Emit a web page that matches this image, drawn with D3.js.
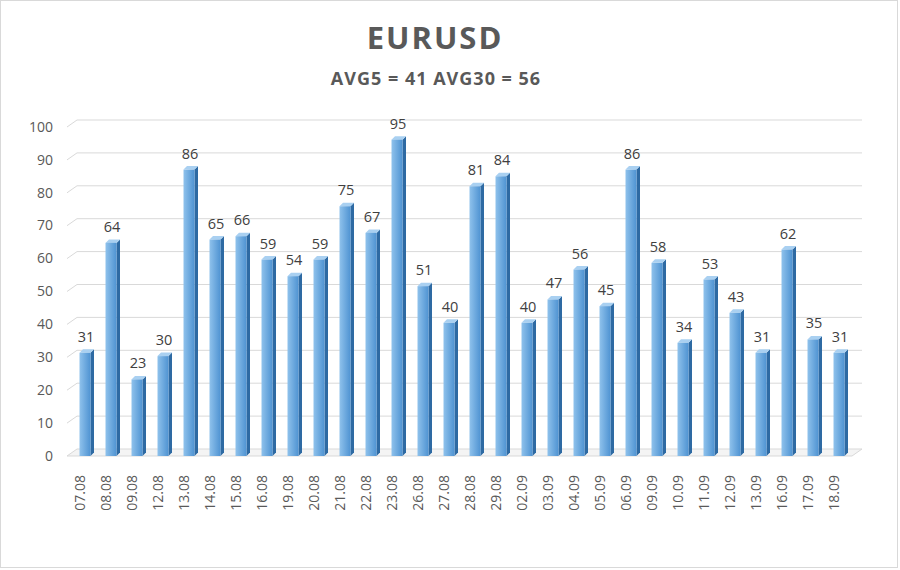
<!DOCTYPE html>
<html>
<head>
<meta charset="utf-8">
<script src="https://cdn.jsdelivr.net/npm/d3@7/dist/d3.min.js"></script>
<style>
  body { margin: 0; background: #fff; }
  svg { display: block; font-family: "Open Sans", "Liberation Sans", sans-serif; }
  .tick-y { font-size: 14px; fill: #595959; }
  .tick-x { font-size: 14px; fill: #595959; }
  .value { font-size: 14.5px; fill: #404040; }
</style>
</head>
<body>
<div class="wrapper-svg"></div>
<script>
var dates = ['07.08','08.08','09.08','12.08','13.08','14.08','15.08','16.08','19.08','20.08',
             '21.08','22.08','23.08','26.08','27.08','28.08','29.08','02.09','03.09','04.09',
             '05.09','06.09','09.09','10.09','11.09','12.09','13.09','16.09','17.09','18.09'];
var values = [31,64,23,30,86,65,66,59,54,59,75,67,95,51,40,81,84,40,47,56,45,86,58,34,53,43,31,62,35,31];
var yTicks = [0,10,20,30,40,50,60,70,80,90,100];
var title = 'EURUSD';
var subtitle = 'AVG5 = 41 AVG30 = 56';

var W = 900, H = 570;
var svg = d3.select('.wrapper-svg')
    .append('svg')
    .attr('width', W)
    .attr('height', H);

var defs = svg.append('defs');
var g1 = defs.append('linearGradient').attr('id', 'front').attr('x1', 0).attr('x2', 1).attr('y1', 0).attr('y2', 0);
g1.append('stop').attr('offset', '0%').attr('stop-color', '#8fc2ec');
g1.append('stop').attr('offset', '100%').attr('stop-color', '#4f93d2');

svg.append('rect')
    .attr('x', 0.5).attr('y', 0.5)
    .attr('width', W - 3).attr('height', H - 3)
    .attr('fill', '#fff')
    .attr('stroke', '#d9d9d9');

var x = d3.scaleBand().domain(dates).range([72, 852]);
// front of the bars, back wall gridlines, axis labels (3d perspective)
var y = d3.scaleLinear().domain([0, 100]).range([456, 123]);
var yBack = d3.scaleLinear().domain([0, 100]).range([449, 120]);
var yLab = d3.scaleLinear().domain([0, 100]).range([457, 128]);

var left = 67, wall = 77, right = 862, slant = 7;

// floor
svg.append('polygon')
    .attr('points', [[left, yBack(0) + slant], [wall, yBack(0)], [right, yBack(0)], [right - 10, yBack(0) + slant]].join(' '))
    .attr('fill', '#f4f4f4')
    .attr('stroke', '#d9d9d9');

// gridlines with the slanted side wall part
yTicks.forEach(function(t) {
    if (t === 0) return;
    svg.append('polyline')
        .attr('points', [[left, yBack(t) + slant], [wall, yBack(t)], [right, yBack(t)]].join(' '))
        .attr('fill', 'none')
        .attr('stroke', '#d9d9d9');
});

svg.selectAll('.tick-y')
    .data(yTicks)
    .enter().append('text')
    .classed('tick-y', true)
    .attr('x', 53)
    .attr('y', function(d) { return yLab(d); })
    .attr('text-anchor', 'end')
    .attr('dominant-baseline', 'middle')
    .text(function(d) { return d; });

// bars
var bw = 11, sd = 3.5;
var bars = svg.selectAll('.bar')
    .data(values)
    .enter().append('g')
    .classed('bar', true)
    .attr('transform', function(d, i) { return 'translate(' + (x(dates[i]) + x.bandwidth() / 2 - bw / 2) + ',0)'; });

bars.append('polygon')
    .attr('points', function(d) { return [[bw, y(d)], [bw + sd, y(d) - sd], [bw + sd, y(0) - sd], [bw, y(0)]].join(' '); })
    .attr('fill', '#2e6aa3');

bars.append('polygon')
    .attr('points', function(d) { return [[0, y(d)], [sd, y(d) - sd], [bw + sd, y(d) - sd], [bw, y(d)]].join(' '); })
    .attr('fill', '#a9d0f1');

bars.append('rect')
    .attr('x', 0)
    .attr('y', function(d) { return y(d); })
    .attr('width', bw)
    .attr('height', function(d) { return y(0) - y(d); })
    .attr('fill', 'url(#front)');

svg.selectAll('.value')
    .data(values)
    .enter().append('text')
    .classed('value', true)
    .attr('x', function(d, i) { return x(dates[i]) + x.bandwidth() / 2 + 1; })
    .attr('y', function(d) { return y(d) - 11; })
    .attr('text-anchor', 'middle')
    .text(function(d) { return d; });

svg.selectAll('.tick-x')
    .data(dates)
    .enter().append('text')
    .classed('tick-x', true)
    .attr('transform', function(d) { return 'translate(' + (x(d) + x.bandwidth() / 2 - 4) + ',475) rotate(-90)'; })
    .attr('text-anchor', 'end')
    .attr('dominant-baseline', 'middle')
    .text(function(d) { return d; });

svg.append('text')
    .text(title)
    .attr('x', 435)
    .attr('y', 49)
    .attr('text-anchor', 'middle')
    .style('font-size', '31px')
    .style('font-weight', 'bold')
    .style('letter-spacing', '2px')
    .style('fill', '#595959');

svg.append('text')
    .text(subtitle)
    .attr('x', 436)
    .attr('y', 85)
    .attr('text-anchor', 'middle')
    .style('font-size', '18px')
    .style('font-weight', 'bold')
    .style('letter-spacing', '1px')
    .style('fill', '#595959');
</script>
</body>
</html>
